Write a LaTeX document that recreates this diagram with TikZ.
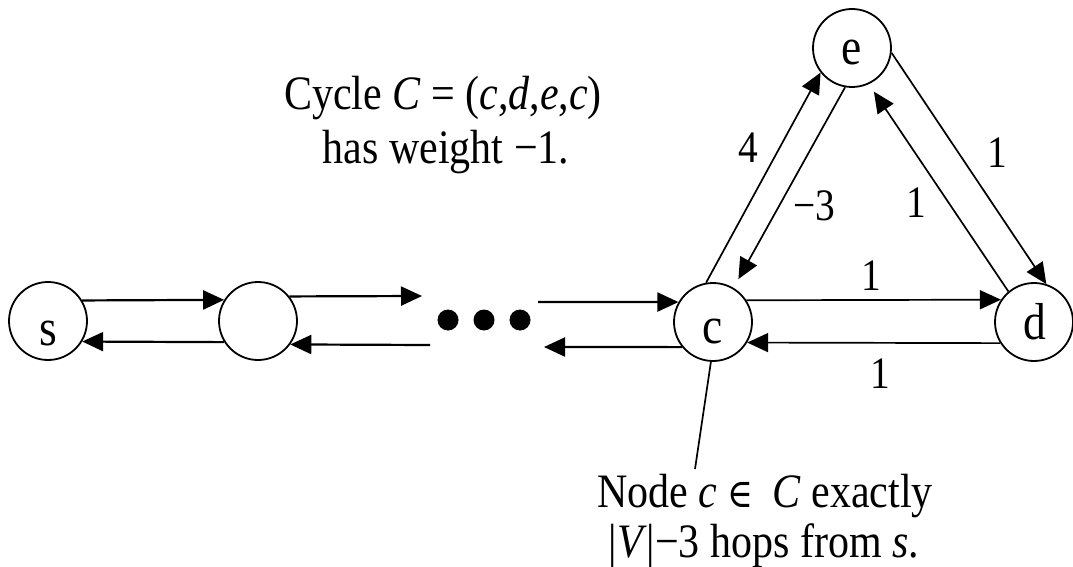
\documentclass[tikz,border=0pt]{standalone}
\usepackage{fontspec}
\setmainfont{Liberation Serif}
\newfontfamily\symf{DejaVu Serif}
\usepackage{graphicx}
\usetikzlibrary{arrows.meta}
\newcommand\sq[1]{\scalebox{0.875}[1]{#1}}
\begin{document}
\begin{tikzpicture}[x=1pt,y=-1pt,
  vtx/.style={circle, draw, line width=1.8pt, minimum size=78pt, inner sep=0pt},
  lett/.style={anchor=base, font=\fontsize{52}{60}\selectfont, inner sep=0pt},
  lab/.style={anchor=base, font=\fontsize{45}{50}\selectfont, inner sep=0pt},
  txt/.style={anchor=base, font=\fontsize{48}{55}\selectfont, inner sep=0pt},
  arr/.style={-{Triangle[length=21pt,width=19pt]}, line width=2.2pt},
  tri/.style={arr, line width=1.7pt},
  dotn/.style={circle, fill, minimum size=21pt, inner sep=0pt}]
\useasboundingbox (0,0) rectangle (1073,567);
% vertices
\node[vtx] (s) at (48,321) {};
\node[vtx] (n2) at (258,321) {};
\node[vtx] (c) at (713,322) {};
\node[vtx] (d) at (1034,322) {};
\node[vtx] (e) at (852,48) {};
\node[lett] (sL) at (48,345) {\sq{s}};
\node[lett] (cL) at (713,343) {\sq{c}};
\node[lett] (dL) at (1035,339) {\sq{d}};
\node[lett] (eL) at (852,65) {\sq{e}};
% dots
\node[dotn] (dot1) at (448,320) {};
\node[dotn] (dot2) at (484,320) {};
\node[dotn] (dot3) at (520,320) {};
% free ends
\coordinate (a1) at (422,296);
\coordinate (a2) at (430,345);
\coordinate (b1) at (538,302);
\coordinate (b2) at (544,347);
\coordinate (p) at (695,469);
% horizontal arrows
\draw[arr] (s.31.7) -- (n2.148.3);
\draw[arr] (n2.-148.3) -- (s.-31.7);
\draw[arr] (n2.38.7) -- (a1);
\draw[arr] (a2) -- (n2.-36.9);
\draw[arr] (b1) -- (c.150);
\draw[arr] (c.-141.3) -- (b2);
\draw[tri] (c.33.4) -- (d.146.6);
\draw[tri] (d.-148.3) -- (c.-31.7);
% triangle edges
\draw[tri] (c.100) -- (e.218);
\draw[tri, shorten >=10pt] (e.260) -- (c.59);
\draw[tri] (e.-7) -- (d.72);
\draw[tri, shorten >=9pt] (d.130) -- (e.-65);
% pointer
\draw[line width=1.7pt] (c.-93) -- (p);
% edge labels
\node[lab] (l1) at (871,290) {\sq{1}};
\node[lab] (l2) at (880,388) {\sq{1}};
\node[lab] (l3) at (748,162) {\sq{4}};
\node[lab] (l4) at (814,220) {\sq{−3}};
\node[lab] (l5) at (997,167) {\sq{1}};
\node[lab] (l6) at (916,217) {\sq{1}};
% texts
\node[txt] (t1) at (443,110) {\sq{Cycle \textit{C} = (\textit{c},\textit{d},\textit{e},\textit{c})}};
\node[txt] (t2) at (446,163) {\sq{has weight −1.}};
\node[txt] (t3) at (765,507) {\sq{Node \textit{c} {\symf\fontsize{40}{48}\selectfont ∈}\hspace{0.2em} \textit{C} exactly}};
\node[txt] (t4) at (764,557) {\sq{|\textit{V}|−3 hops from \textit{s}.}};
\end{tikzpicture}
\end{document}
